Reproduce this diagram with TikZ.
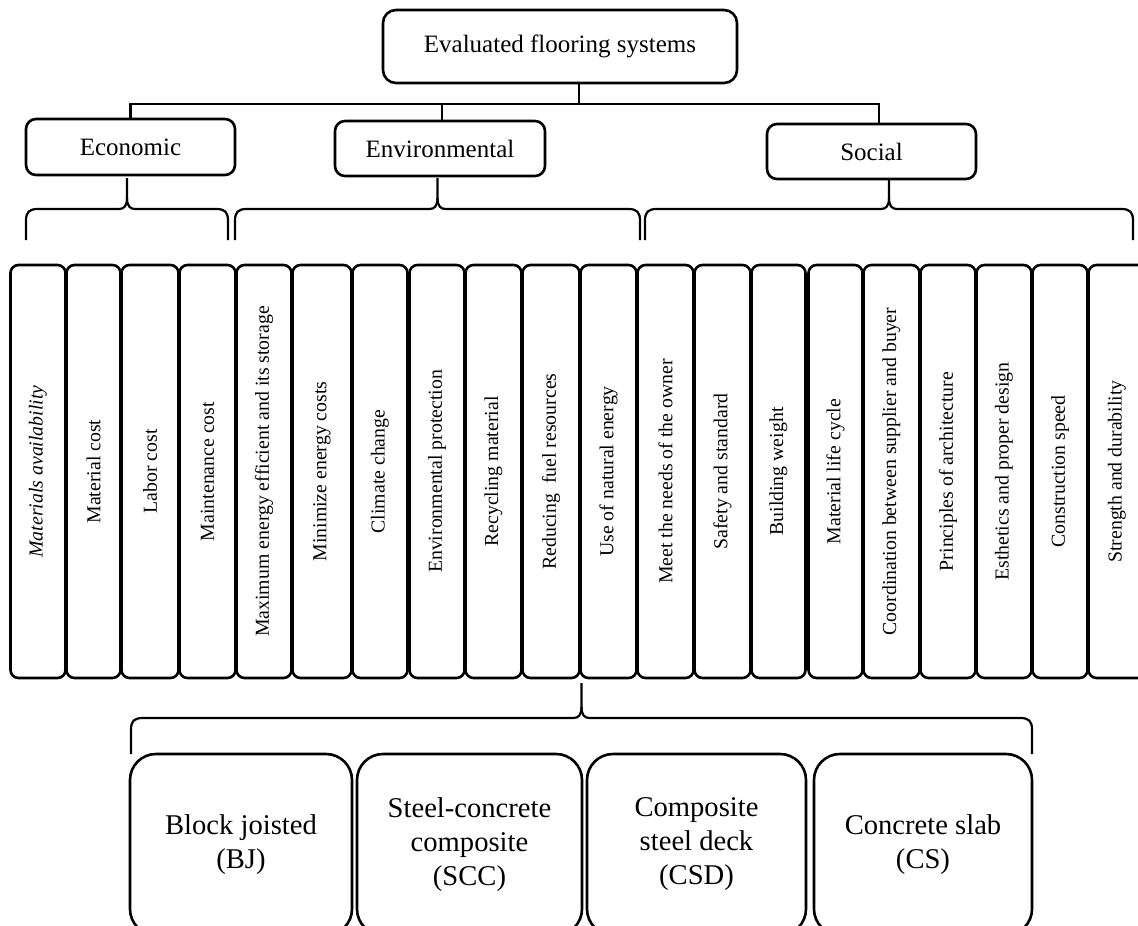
\documentclass[tikz,border=0pt]{standalone}
\usepackage{fontspec}
\setmainfont{Liberation Serif}
\begin{document}
\newcommand{\mybrace}[5]{%
  \pgfmathsetmacro{\xm}{(#1+#2)/2}%
  \draw[conn] (#1,#4) -- (#1,#3+12) .. controls (#1,#3+3) and (#1+3,#3) .. (#1+12,#3)
    -- (\xm-8,#3) .. controls (\xm-3,#3) and (\xm,#3-3) .. (\xm,#3-11) -- (\xm,#5);
  \draw[conn] (\xm,#3-11) .. controls (\xm,#3-3) and (\xm+3,#3) .. (\xm+8,#3)
    -- (#2-12,#3) .. controls (#2-3,#3) and (#2,#3+3) .. (#2,#3+12) -- (#2,#4);}
\begin{tikzpicture}[x=1pt,y=-1pt,
  box/.style={draw, line width=2.6pt, inner sep=0pt, align=center},
  topbox/.style={box, rounded corners=13pt, font=\fontsize{25}{30}\selectfont},
  catbox/.style={box, rounded corners=10pt, font=\fontsize{25}{30}\selectfont},
  colbox/.style={box, rounded corners=8pt, rotate=90, font=\fontsize{19.8}{24}\selectfont},
  sysbox/.style={box, rounded corners=26pt, font=\fontsize{28.6}{34}\selectfont},
  conn/.style={draw, line width=2.2pt}]
\useasboundingbox (0,0) rectangle (1138,926);
% top
\node[topbox, minimum width=354pt, minimum height=73pt] (top) at (560,46.5) {Evaluated flooring systems};
% categories
\node[catbox, minimum width=209pt, minimum height=56pt] (eco) at (130.5,147) {Economic};
\node[catbox, minimum width=210pt, minimum height=55pt] (env) at (440,148.5) {Environmental};
\node[catbox, minimum width=209pt, minimum height=55pt] (soc) at (871.5,151.5) {Social};
% tree connectors
\coordinate (hub) at (579,104);
\coordinate (hr) at (879,104);
\draw[conn] (hub |- top.south) -- (hub);
\draw[conn] (eco.north) |- (hr) -- (hr |- soc.north);
\draw[conn] ([xshift=2pt]env.north) -- ([xshift=2pt]env.north |- hub);
% criteria columns
\foreach \l/\r/\t [count=\i] in {
  10/66/{\itshape Materials availability},
  66/121/{Material cost},
  121/179/{Labor cost},
  179/236/{Maintenance cost},
  236/292/{Maximum energy efficient and its storage},
  292/352/{Minimize energy costs},
  352/408/{Climate change},
  409/465/{Environmental protection},
  465/522/{Recycling material},
  522/580/{Reducing\ \ fuel resources},
  580/637/{Use of natural energy},
  637/694/{Meet the needs of the owner},
  694/751/{Safety and standard},
  751/806/{Building weight},
  808/863/{Material life cycle},
  863/920/{Coordination between supplier and buyer},
  920/976/{Principles of architecture},
  976/1032/{Esthetics and proper design},
  1032/1088/{Construction speed},
  1088/1146/{Strength and durability}}{
  \pgfmathsetmacro{\cx}{(\l+\r)/2}
  \pgfmathsetmacro{\cw}{\r-\l-1}
  \node[colbox, minimum width=413pt, minimum height=\cw pt] (c\i) at (\cx,471.5) {\t};
}
% braces
\mybrace{26}{228}{209}{240}{178}
\mybrace{235}{640}{209}{240}{178}
\mybrace{645}{1133}{209}{240}{179}
\mybrace{131}{1032}{718}{754}{683}
% flooring systems
\node[sysbox, minimum width=222pt, minimum height=181pt] (bj) at (241,844.5) {Block joisted\\(BJ)};
\node[sysbox, minimum width=225pt, minimum height=181pt] (scc) at (469.5,844.5) {Steel-concrete\\composite\\(SCC)};
\node[sysbox, minimum width=219pt, minimum height=181pt] (csd) at (696.5,844.5) {Composite\\steel deck\\(CSD)};
\node[sysbox, minimum width=218pt, minimum height=181pt] (cs) at (923,844.5) {Concrete slab\\(CS)};
\end{tikzpicture}
\end{document}
